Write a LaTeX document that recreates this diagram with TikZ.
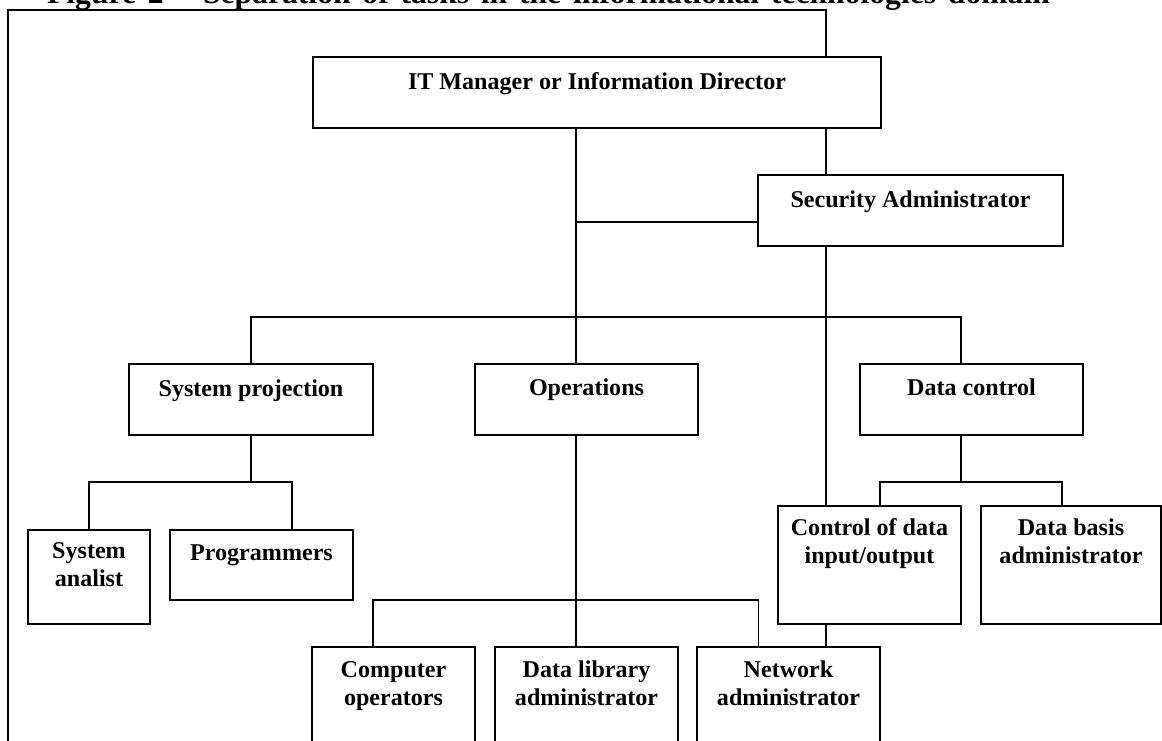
\documentclass[tikz,border=0pt]{standalone}
\usepackage{fontspec}
\setmainfont{Liberation Serif}
\usetikzlibrary{fit}
\newcommand{\bxfont}{\fontsize{13.7pt}{15.4pt}\selectfont\bfseries}
\newcommand{\ttlfont}{\fontsize{18pt}{20pt}\selectfont\bfseries}
\begin{document}
\begin{tikzpicture}[x=0.02cm,y=-0.02cm,
  box/.style={draw, line width=1.35pt, inner sep=0pt},
  wire/.style={draw, line width=1.1pt},
  lbl/.style={inner sep=0pt, align=center, font=\bxfont, anchor=base}]
\clip (0,0) rectangle (1162,740);
% title
\node[anchor=base, inner sep=0pt, font=\ttlfont] (title) at (548.5,4)
  {\makebox[20.06cm][s]{Figure 2 -- Separation of tasks in the informational technologies domain}};
% boxes
\node[box, fit={(313,57) (881,128)}] (it) {};
\node[box, fit={(758,175) (1063,246)}] (sec) {};
\node[box, fit={(129,364) (373,435)}] (sp) {};
\node[box, fit={(475,364) (698,435)}] (ops) {};
\node[box, fit={(860,364) (1083,435)}] (dc) {};
\node[box, fit={(28,530) (150,624)}] (sa) {};
\node[box, fit={(170,530) (353,600)}] (prog) {};
\node[box, fit={(778,506) (961,624)}] (cio) {};
\node[box, fit={(981,506) (1161,624)}] (dba) {};
\node[box, fit={(312,647) (475,770)}] (co) {};
\node[box, fit={(495,647) (678,770)}] (dla) {};
\node[box, fit={(697,647) (880,770)}] (net) {};
% labels (anchor = baseline of the last line)
\node[lbl] (itl) at (597,90) {IT Manager or Information Director};
\node[lbl] (secl) at (910.5,207) {Security Administrator};
\node[lbl] (spl) at (251,396) {System projection};
\node[lbl] (opsl) at (586.5,395) {Operations};
\node[lbl] (dcl) at (971.5,395) {Data control};
\node[lbl] (sal) at (89,586) {System\\analist};
\node[lbl] (progl) at (261.5,560) {Programmers};
\node[lbl] (ciol) at (869.5,563) {Control of data\\input/output};
\node[lbl] (dbal) at (1071,563) {Data basis\\administrator};
\node[lbl] (col) at (393.5,705) {Computer\\operators};
\node[lbl] (dlal) at (586.5,705) {Data library\\administrator};
\node[lbl] (netl) at (788.5,705) {Network\\administrator};
% frame
\coordinate (ftl) at (8,10);
\coordinate (fbl) at (8,760);
\coordinate (ftr) at (826,10);
\draw[wire] (fbl) -- (ftl) -- (ftr) -- (ftr |- it.north);
% junction coordinates
\coordinate (ja) at (576,222);
\coordinate (sx) at (826,0);
\coordinate (jb) at (251,317);
\coordinate (jc) at (961,317);
\coordinate (jd) at (251,482);
\coordinate (je) at (292,482);
\coordinate (jf) at (373,600);
\coordinate (jg) at (758.5,600);
\coordinate (jh) at (880,482);
\coordinate (ji) at (1062,482);
% connectors
\draw[wire] (it.south -| ja) -- (ops.north -| ja);
\draw[wire] (ja) -- (ja -| sec.west);
\draw[wire] (it.south -| sx) -- (sec.north -| sx);
\draw[wire] (sec.south -| sx) -- (cio.north -| sx);
\draw[wire] (cio.south -| sx) -- (net.north -| sx);
\draw[wire] (sp.north) -- (jb) -- (jc) -- (jc |- dc.north);
\draw[wire] (sp.south) -- (jd);
\draw[wire] (sa.north) -- (sa.north |- jd) -- (je) -- (je |- prog.north);
\draw[wire] (ops.south -| ja) -- (dla.north -| ja);
\draw[wire] (jf |- co.north) -- (jf) -- (jg) -- (jg |- net.north);
\draw[wire] (jc |- dc.south) -- (jc |- jh);
\draw[wire] (jh |- cio.north) -- (jh) -- (ji) -- (ji |- dba.north);
\end{tikzpicture}
\end{document}
